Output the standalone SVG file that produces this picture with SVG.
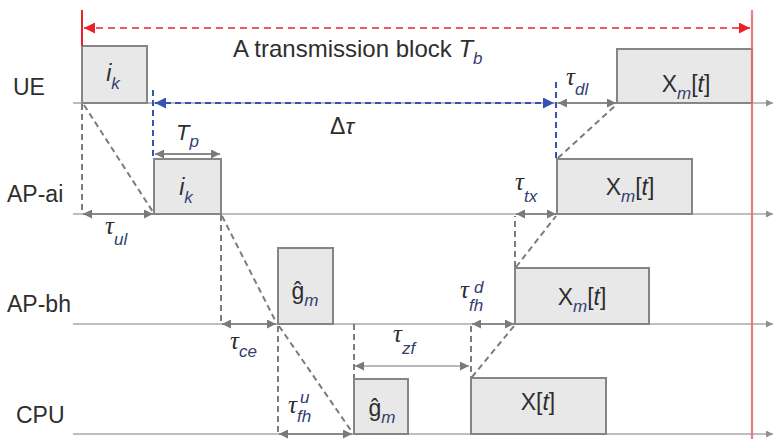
<svg xmlns="http://www.w3.org/2000/svg" width="774" height="439" viewBox="0 0 774 439">
<style>
text{font-family:"Liberation Sans",Arial,sans-serif;fill:#2e2e2e;}
.lbl{font-size:23px;}
.box{fill:#e8e8e8;stroke:#858585;stroke-width:2;}
.bt{font-size:23px;}
.it{font-style:italic;}
.sub{font-size:17px;font-style:italic;fill:#34406e;}
.tau{font-family:"Liberation Serif","Times New Roman",serif;font-style:italic;font-size:25px;}
.ss{font-family:"Liberation Sans",Arial,sans-serif;}
.axis{stroke:#a8a8a8;stroke-width:1.5;fill:none;}
.gd{stroke:#7c7c7c;stroke-width:2;stroke-dasharray:6 4;fill:none;}
.bd{stroke:#3553b0;stroke-width:2;stroke-dasharray:6 4;fill:none;}
.da{stroke:#8a8a8a;stroke-width:1.8;fill:none;marker-start:url(#ah);marker-end:url(#ah);}
</style>
<defs>
<marker id="ah" viewBox="0 0 10 10" refX="10" refY="5" markerWidth="9" markerHeight="9" markerUnits="userSpaceOnUse" orient="auto-start-reverse"><path d="M0,0 L10,5 L0,10 z" fill="#7a7a7a"/></marker>
<marker id="ax" viewBox="0 0 10 10" refX="10" refY="5" markerWidth="7" markerHeight="7" markerUnits="userSpaceOnUse" orient="auto"><path d="M0,0 L10,5 L0,10 z" fill="#909090"/></marker>
<marker id="bh" viewBox="0 0 10 10" refX="10" refY="5" markerWidth="11" markerHeight="11" markerUnits="userSpaceOnUse" orient="auto-start-reverse"><path d="M0,0 L10,5 L0,10 z" fill="#3553b0"/></marker>
<marker id="rh" viewBox="0 0 10 10" refX="10" refY="5" markerWidth="11" markerHeight="11" markerUnits="userSpaceOnUse" orient="auto-start-reverse"><path d="M0,0 L10,5 L0,10 z" fill="#e8212b"/></marker>
</defs>

<g id="axes">
<line class="axis" x1="73" y1="103" x2="773" y2="103" marker-end="url(#ax)"/>
<line class="axis" x1="73" y1="214" x2="773" y2="214" marker-end="url(#ax)"/>
<line class="axis" x1="73" y1="324" x2="773" y2="324" marker-end="url(#ax)"/>
<line class="axis" x1="73" y1="434" x2="773" y2="434" marker-end="url(#ax)"/>
<text class="lbl" x="13" y="95">UE</text>
<text class="lbl" x="7" y="202">AP-ai</text>
<text class="lbl" x="7" y="312">AP-bh</text>
<text class="lbl" x="16" y="423">CPU</text>
</g>

<g id="ue-ik">
<rect class="box" x="82" y="46" width="65" height="57"/>
<text class="bt" x="113" y="81" text-anchor="middle"><tspan class="it">i</tspan><tspan class="sub" dy="8">k</tspan></text>
</g>
<g id="ue-xm">
<rect class="box" x="617" y="49" width="135" height="54"/>
<text class="bt" x="686" y="92" text-anchor="middle">X<tspan class="sub" dy="7">m</tspan><tspan dy="-7">[</tspan><tspan class="it">t</tspan>]</text>
</g>
<g id="apai-ik">
<rect class="box" x="154" y="159" width="67" height="55"/>
<text class="bt" x="186" y="195" text-anchor="middle"><tspan class="it">i</tspan><tspan class="sub" dy="8">k</tspan></text>
</g>
<g id="apai-xm">
<rect class="box" x="557" y="159" width="135" height="55"/>
<text class="bt" x="630" y="195" text-anchor="middle">X<tspan class="sub" dy="7">m</tspan><tspan dy="-7">[</tspan><tspan class="it">t</tspan>]</text>
</g>
<g id="apbh-g">
<rect class="box" x="278" y="248" width="55" height="76"/>
<text class="bt" x="305" y="299" text-anchor="middle">ĝ<tspan class="sub" dy="7">m</tspan></text>
</g>
<g id="apbh-xm">
<rect class="box" x="515" y="268" width="134" height="56"/>
<text class="bt" x="582" y="305" text-anchor="middle">X<tspan class="sub" dy="7">m</tspan><tspan dy="-7">[</tspan><tspan class="it">t</tspan>]</text>
</g>
<g id="cpu-g">
<rect class="box" x="354" y="379" width="54" height="55"/>
<text class="bt" x="382" y="416" text-anchor="middle">ĝ<tspan class="sub" dy="7">m</tspan></text>
</g>
<g id="cpu-x">
<rect class="box" x="471" y="378" width="135" height="56"/>
<text class="bt" x="538" y="410" text-anchor="middle">X[<tspan class="it">t</tspan>]</text>
</g>

<g id="connectors">
<line x1="82" y1="10" x2="82" y2="46" stroke="#e8212b" stroke-width="2"/>
<line x1="752" y1="10" x2="752" y2="439" stroke="#f0606c" stroke-opacity="0.85" stroke-width="2.2"/>
<line x1="84" y1="28" x2="750" y2="28" stroke="#e8212b" stroke-width="1.6" stroke-dasharray="7 5" marker-start="url(#rh)" marker-end="url(#rh)"/>
<line class="bd" x1="153" y1="90" x2="153" y2="158"/>
<line class="bd" x1="556" y1="82" x2="556" y2="160"/>
<line class="bd" x1="155" y1="103" x2="554" y2="103" marker-start="url(#bh)" marker-end="url(#bh)"/>
<line class="gd" x1="82" y1="104" x2="82" y2="212"/>
<line class="gd" x1="84" y1="105" x2="153" y2="212"/>
<line class="da" x1="83" y1="214" x2="153" y2="214"/>
<line class="da" x1="155" y1="154" x2="220" y2="154"/>
<line class="gd" x1="221" y1="215" x2="221" y2="322"/>
<line class="gd" x1="222" y1="216" x2="276" y2="322"/>
<line class="da" x1="222" y1="324" x2="276" y2="324"/>
<line class="gd" x1="278" y1="326" x2="278" y2="432"/>
<line class="gd" x1="279" y1="326" x2="352" y2="432"/>
<line class="da" x1="279" y1="434" x2="352" y2="434"/>
<line class="gd" x1="354" y1="324" x2="354" y2="378"/>
<line class="gd" x1="471" y1="326" x2="471" y2="377"/>
<line class="da" x1="355" y1="366" x2="469" y2="366" style="stroke:#b8b8b8"/>
<line class="gd" x1="472" y1="377" x2="514" y2="326"/>
<line class="da" x1="472" y1="324" x2="514" y2="324"/>
<line class="gd" x1="515" y1="267" x2="515" y2="216"/>
<line class="gd" x1="516" y1="267" x2="556" y2="216"/>
<line class="da" x1="516" y1="214" x2="556" y2="214"/>
<line class="gd" x1="558" y1="158" x2="616" y2="105"/>
<line class="da" x1="558" y1="103" x2="616" y2="103"/>
</g>

<g id="labels">
<text x="233" y="57" font-size="24">A transmission block <tspan class="it">T</tspan><tspan class="sub" dy="7">b</tspan></text>
<text x="330" y="134" font-size="23" font-family="Liberation Serif, serif">Δ<tspan font-style="italic">τ</tspan></text>
<text x="176" y="140" font-size="22"><tspan class="it">T</tspan><tspan class="sub" dy="7">p</tspan></text>
<text class="tau" x="105" y="234">τ<tspan class="sub ss" dy="11">ul</tspan></text>
<text class="tau" x="230" y="349">τ<tspan class="sub ss" dy="8">ce</tspan></text>
<text class="tau" x="288" y="413">τ<tspan class="sub ss" dy="9">fh</tspan></text>
<text class="sub" x="300" y="403" font-size="14">u</text>
<text class="tau" x="393" y="342">τ<tspan class="sub ss" dy="12">zf</tspan></text>
<text class="tau" x="460" y="298">τ<tspan class="sub ss" dy="13">fh</tspan></text>
<text class="sub" x="474" y="293" font-size="14">d</text>
<text class="tau" x="515" y="190">τ<tspan class="sub ss" dy="12">tx</tspan></text>
<text class="tau" x="566" y="85">τ<tspan class="sub ss" dy="10">dl</tspan></text>
</g>
</svg>
